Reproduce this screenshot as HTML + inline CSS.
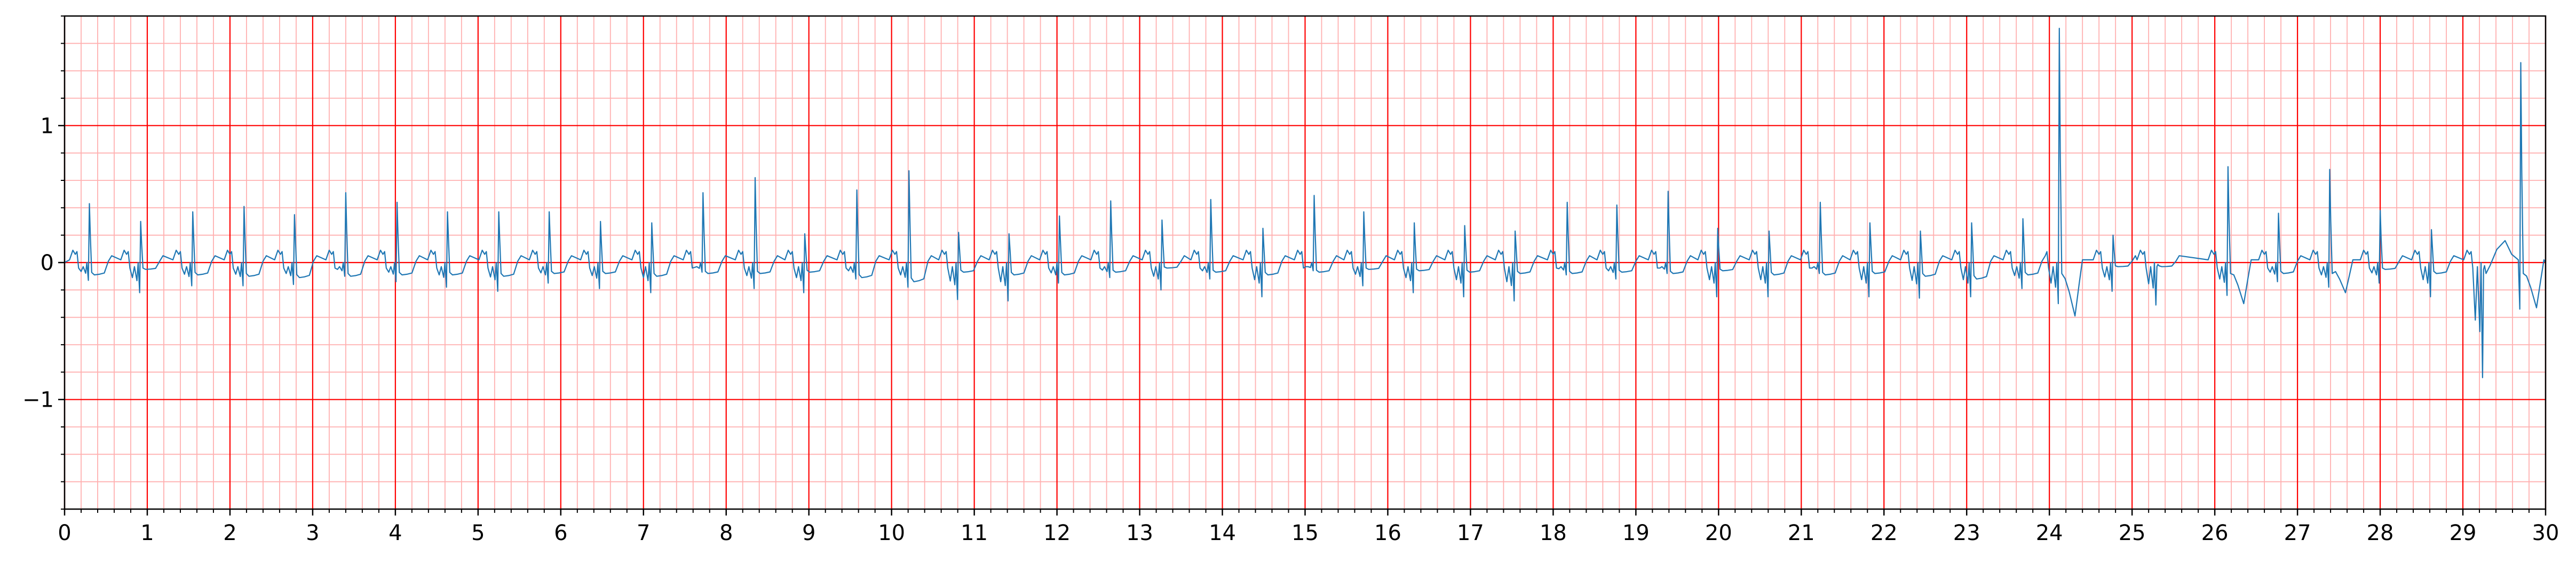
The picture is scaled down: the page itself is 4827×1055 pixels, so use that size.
<!DOCTYPE html>
<html><head><meta charset="utf-8"><style>
html,body{margin:0;padding:0;background:#fff;}
svg{display:block;}
text{font-family:"DejaVu Sans","Liberation Sans",sans-serif;font-size:40px;fill:#000;}
</style></head>
<body>
<svg id="chart" width="4827" height="1055" viewBox="0 0 4827 1055">
<g id="grid"></g>
<g id="trace"></g>
<g id="axes"></g>
</svg>
<script>
// Beat data
const beatTimes = [0.30,0.92,1.55,2.17,2.78,3.40,4.02,4.63,5.25,5.86,6.48,7.10,7.72,8.35,8.95,9.58,10.21,10.81,11.42,12.03,12.65,13.27,13.86,14.49,15.11,15.71,16.32,16.93,17.54,18.17,18.77,19.39,19.99,20.61,21.23,21.83,22.44,23.06,23.68,24.12,24.77,25.30,26.16,26.77,27.39,28.00,28.62,29.25,29.70];
const rAmps = [0.43,0.30,0.37,0.41,0.35,0.51,0.44,0.37,0.37,0.37,0.30,0.29,0.51,0.62,0.21,0.53,0.67,0.22,0.21,0.34,0.45,0.31,0.46,0.25,0.49,0.37,0.29,0.27,0.23,0.44,0.42,0.52,0.25,0.23,0.44,0.29,0.23,0.29,0.32,1.71,0.20,-0.03,0.70,0.36,0.68,0.38,0.24,-0.05,1.46];
const qAmps = [-0.13,-0.22,-0.17,-0.17,-0.16,-0.10,-0.14,-0.18,-0.21,-0.15,-0.19,-0.22,-0.07,-0.19,-0.22,-0.12,-0.18,-0.27,-0.28,-0.15,-0.11,-0.20,-0.12,-0.25,-0.06,-0.17,-0.22,-0.25,-0.28,-0.09,-0.12,-0.08,-0.25,-0.25,-0.08,-0.25,-0.26,-0.25,-0.19,-0.30,-0.21,-0.31,-0.24,-0.14,-0.18,-0.15,-0.25,-0.84,-0.34];
const stLevels = [-0.09,-0.05,-0.09,-0.10,-0.11,-0.10,-0.09,-0.09,-0.10,-0.08,-0.08,-0.10,-0.08,-0.08,-0.07,-0.11,-0.14,-0.07,-0.09,-0.09,-0.07,-0.04,-0.07,-0.09,-0.07,-0.05,-0.06,-0.07,-0.08,-0.08,-0.07,-0.08,-0.06,-0.09,-0.09,-0.08,-0.10,-0.12,-0.09,-0.39,-0.03,-0.03,-0.30,-0.08,-0.22,-0.05,-0.08,0.16,-0.33];
const xTicks = [0,1,2,3,4,5,6,7,8,9,10,11,12,13,14,15,16,17,18,19,20,21,22,23,24,25,26,27,28,29,30];
const yTicks = [-1,0,1];
const yTickLabels = ["\u22121","0","1"];

const L=121,R=4770,T=30,B=954,XMIN=0,XMAX=30,YMIN=-1.8,YMAX=1.8;
const X=t=>L+(t-XMIN)/(XMAX-XMIN)*(R-L);
const Y=v=>B-(v-YMIN)/(YMAX-YMIN)*(B-T);
const NS='http://www.w3.org/2000/svg';
function mk(tag,attrs,parent){const e=document.createElementNS(NS,tag);for(const k in attrs)e.setAttribute(k,attrs[k]);parent.appendChild(e);return e;}
const grid=document.getElementById('grid'),axes=document.getElementById('axes'),trace=document.getElementById('trace');

for(let i=0;i<=150;i++){const t=i*0.2;if(i%5===0)continue;
 const l=mk('line',{x1:X(t),x2:X(t),y1:T,y2:B,stroke:'#ffb0b0','stroke-width':1.8},grid);
 
 }
for(let i=-9;i<=9;i++){if(i%5===0)continue;const v=i*0.2;
 const l=mk('line',{x1:L,x2:R,y1:Y(v),y2:Y(v),stroke:'#ffb0b0','stroke-width':1.8},grid);
 
 }
xTicks.forEach(t=>{const l=mk('line',{x1:X(t),x2:X(t),y1:T,y2:B,stroke:'#ff0000','stroke-width':2.2},grid);
 
 });
yTicks.forEach(v=>{const l=mk('line',{x1:L,x2:R,y1:Y(v),y2:Y(v),stroke:'#ff0000','stroke-width':2.2},grid);
 
 });

const pts=[[0,0.0]];
const base=0.02;
for(let i=0;i<beatTimes.length;i++){
 const t=beatTimes[i],A=rAmps[i],Q=qAmps[i],s=stLevels[i];
 let post;
 if(s<-0.15){post=[[0.012,A*0.45],[0.03,-0.08],[0.07,s*0.3],[0.12,s*0.55],[0.19,s],[0.24,s*0.4],[0.28,base]];}
 else if(s>0){post=[[0.012,A*0.45],[0.03,-0.08],[0.08,-0.02],[0.16,s*0.6],[0.26,s],[0.34,0.06],[0.42,base]];}
 else{post=[[0.012,A*0.45],[0.028,s*0.8],[0.06,s],[0.12,s*0.95],[0.18,s*0.85],[0.23,base-0.01],[0.27,base+0.03]];}
 const pre=[[-0.24,base],[-0.20,base+0.07],[-0.17,base+0.04],[-0.15,base+0.06],[-0.13,base-0.06],[-0.10,Q*0.5],[-0.075,base-0.05],[-0.045,Q*0.6],[-0.03,base-0.02],[-0.012,Q],[0,A]];
 pre.concat(post).forEach(p=>{const tt=t+p[0];if(tt>pts[pts.length-1][0]&&tt<30)pts.push([tt,p[1]]);});
}
pts.push([30,0.0]);
const path=mk('path',{d:pts.map((p,i)=>(i?'L':'M')+X(p[0]).toFixed(1)+' '+Y(p[1]).toFixed(1)).join(' '),fill:'none',stroke:'#1f77b4','stroke-width':2.2,'stroke-linejoin':'round'},trace);



const fr=mk('rect',{x:L,y:T,width:R-L,height:B-T,fill:'none',stroke:'#000','stroke-width':2.5},axes);


for(let i=0;i<=150;i++){const t=i*0.2,maj=i%5===0;
 const l=mk('line',{x1:X(t),x2:X(t),y1:B,y2:B+(maj?12:7),stroke:'#000','stroke-width':maj?2.5:2},axes);
 
 }
xTicks.forEach(t=>{const e=mk('text',{x:X(t),y:B+58,'text-anchor':'middle'},axes);e.textContent=String(t);
 
 });
for(let i=-9;i<=9;i++){const v=i*0.2,maj=i%5===0;
 const l=mk('line',{x1:L-(maj?12:7),x2:L,y1:Y(v),y2:Y(v),stroke:'#000','stroke-width':maj?2.5:2},axes);
 
 }
yTicks.forEach((v,i)=>{const e=mk('text',{x:L-20,y:Y(v)+14,'text-anchor':'end'},axes);e.textContent=yTickLabels[i];
 
 });
</script>
</body></html>
